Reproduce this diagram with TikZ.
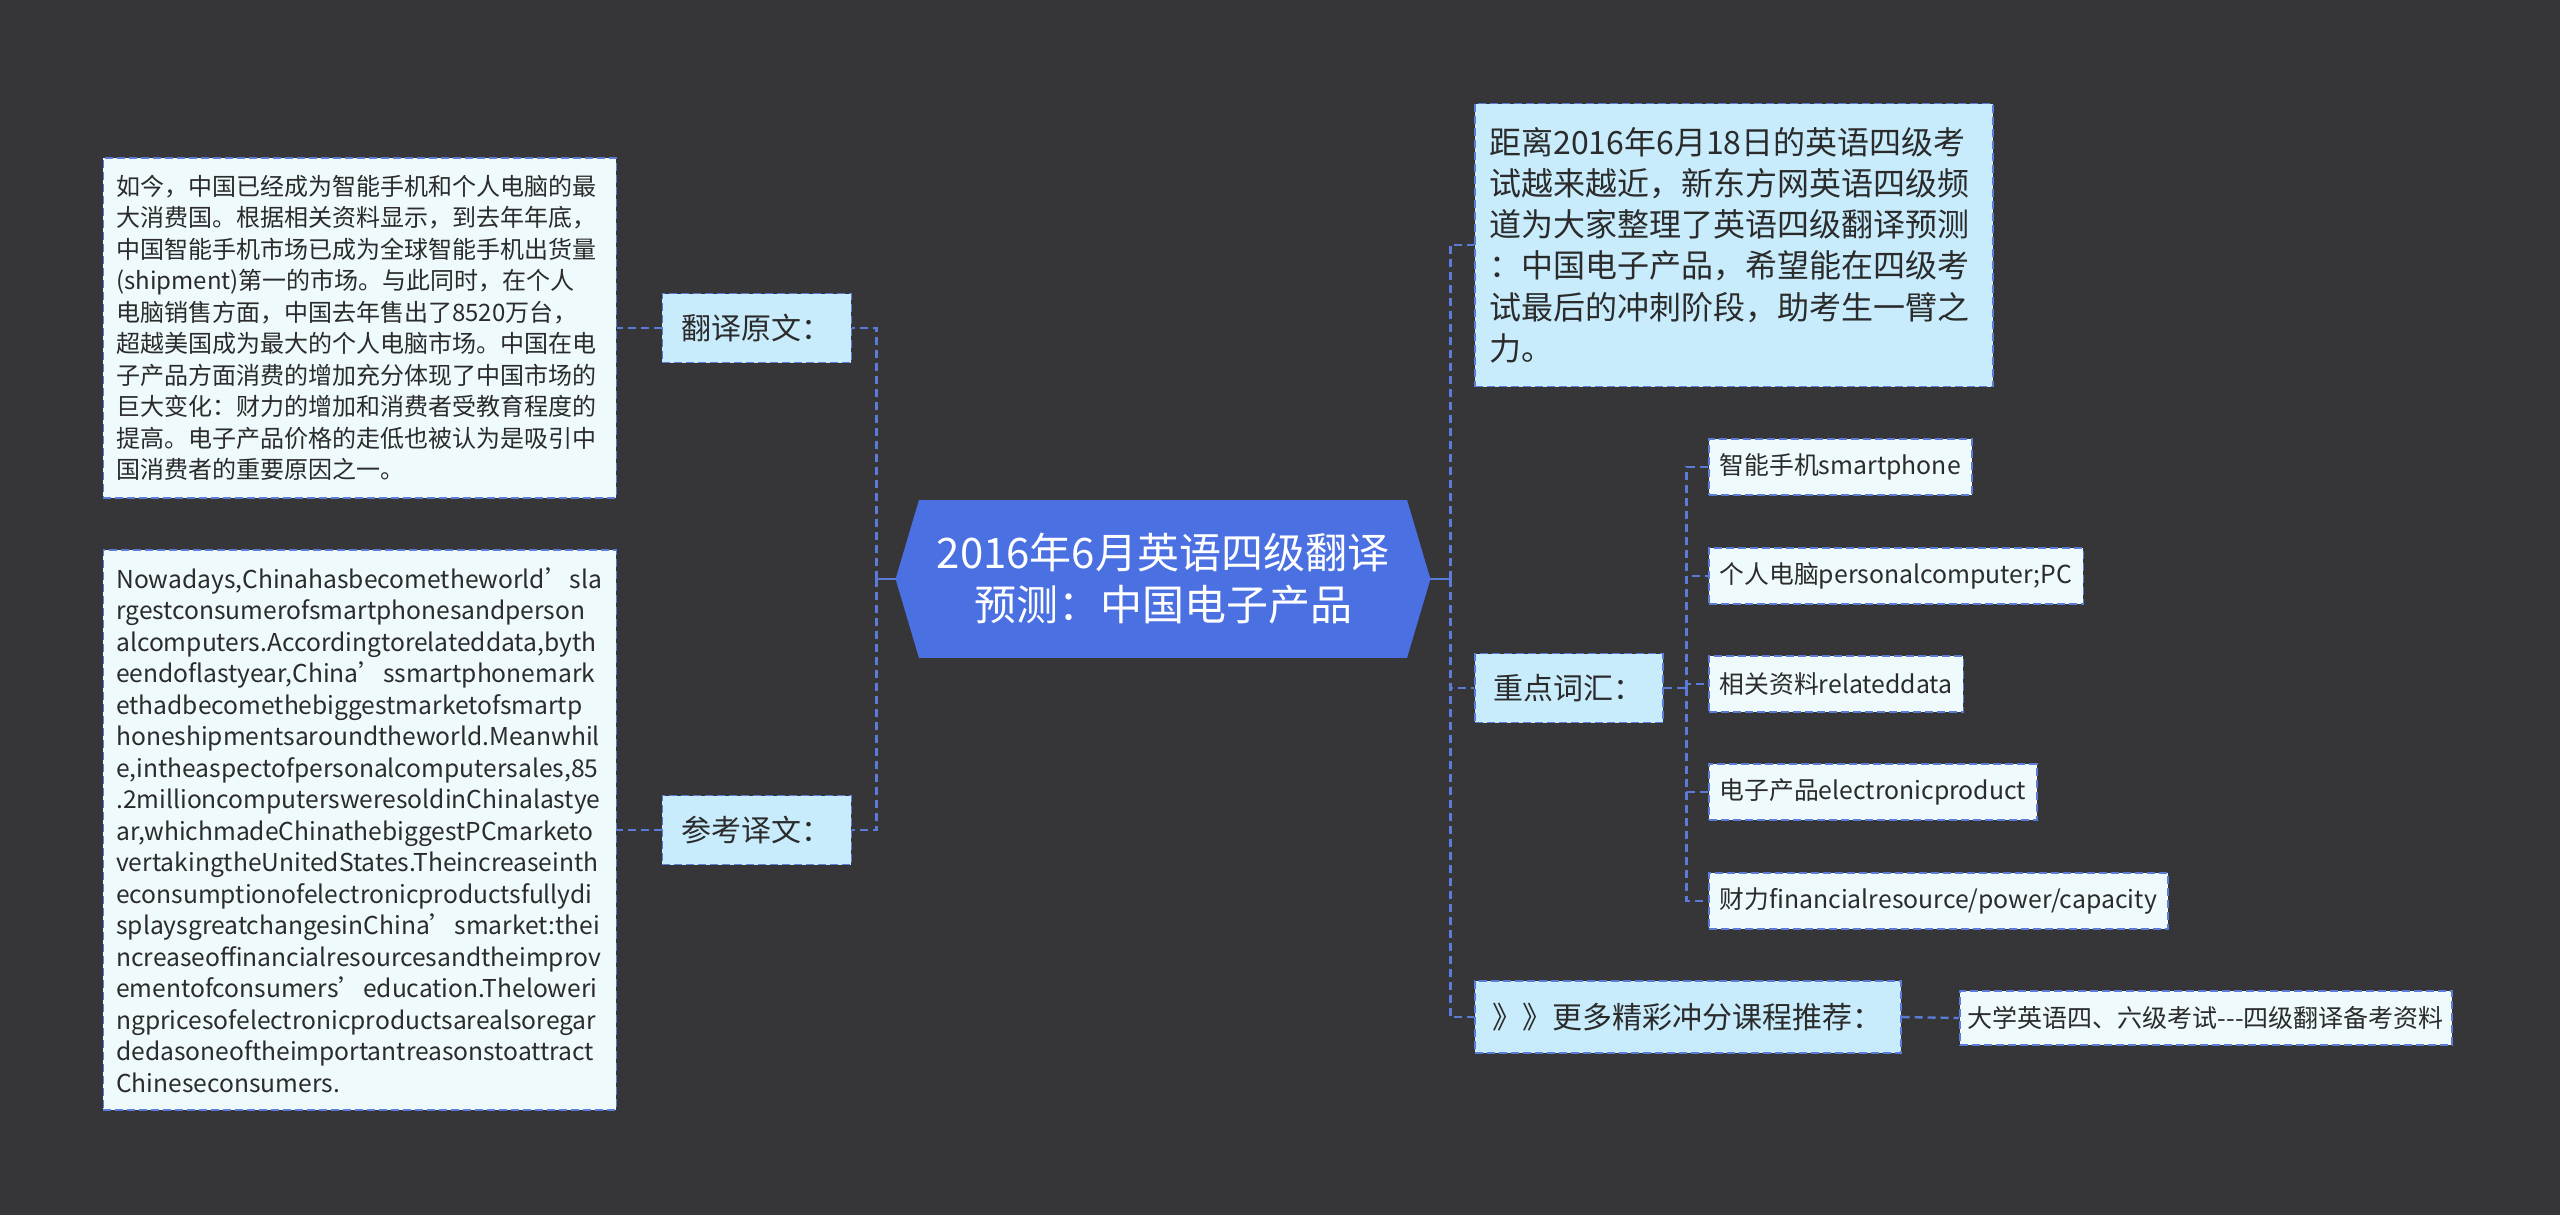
\documentclass[tikz,border=0pt]{standalone}
\usepackage{fontspec}
\setmainfont{Noto Sans CJK SC}
\usetikzlibrary{shapes.symbols}

\definecolor{bgdark}{HTML}{363537}
\definecolor{lineblue}{HTML}{5A7BD8}
\definecolor{rootblue}{HTML}{4B70E2}
\definecolor{branchblue}{HTML}{C8ECFC}
\definecolor{leafwhite}{HTML}{EFFAFD}
\definecolor{txtgray}{HTML}{2B2B2B}

\begin{document}
\begin{tikzpicture}[x=0.5pt, y=-0.5pt, every node/.style={font=\fontsize{12}{15.75}\selectfont, text=txtgray},
	topic/.style={shape=signal, signal to=west and east, signal pointer angle=147, fill=rootblue, draw=rootblue, text=white, minimum width=267pt, minimum height=78.5pt, align=center, font=\fontsize{21}{26}\selectfont},
	box/.style={draw=lineblue, line width=0.75pt, dash pattern=on 4pt off 2pt},
	branch/.style={box, fill=branchblue, inner xsep=9pt, minimum height=34.5pt, font=\fontsize{15}{20}\selectfont},
	leaf/.style={box, fill=leafwhite, inner xsep=5.5pt, minimum height=28pt, font=\fontsize{12.4}{15.75}\selectfont},
	textbox/.style={leaf, inner xsep=6.5pt, text width=243.5pt, align=left},
	link/.style={lineblue, line width=1.2pt, dash pattern=on 4pt off 2.5pt},
	stub/.style={lineblue, line width=1.2pt}]
	\fill[bgdark] (0,0) rectangle (2560,1215);
	\useasboundingbox (0,0) rectangle (2560,1215);

	% centre
	\node[topic] (root) at (1163,579) {2016年6月英语四级翻译\\预测：中国电子产品};

	% left side
	\node[branch, anchor=east, minimum width=94.5pt] (yuanwen) at (852,328) {翻译原文：};
	\node[branch, anchor=east, minimum width=94.5pt] (yiwen) at (852,830) {参考译文：};
	\node[textbox, anchor=east, minimum height=170pt, font=\fontsize{12}{15.75}\selectfont] (yuanwentext) at (617,328) {如今，中国已经成为智能手机和个人电脑的最\\大消费国。根据相关资料显示，到去年年底，\\中国智能手机市场已成为全球智能手机出货量\\(shipment)第一的市场。与此同时，在个人\\电脑销售方面，中国去年售出了8520万台，\\超越美国成为最大的个人电脑市场。中国在电\\子产品方面消费的增加充分体现了中国市场的\\巨大变化：财力的增加和消费者受教育程度的\\提高。电子产品价格的走低也被认为是吸引中\\国消费者的重要原因之一。};
	\node[textbox, anchor=east, minimum height=280pt, font=\fontsize{12.3}{15.75}\selectfont] (yiwentext) at (617,830) {Nowadays,Chinahasbecometheworld’sla\\rgestconsumerofsmartphonesandperson\\alcomputers.Accordingtorelateddata,byth\\eendoflastyear,China’ssmartphonemark\\ethadbecomethebiggestmarketofsmartp\\honeshipmentsaroundtheworld.Meanwhil\\e,intheaspectofpersonalcomputersales,85\\.2millioncomputersweresoldinChinalastye\\ar,whichmadeChinathebiggestPCmarketo\\vertakingtheUnitedStates.Theincreaseinth\\econsumptionofelectronicproductsfullydi\\splaysgreatchangesinChina’smarket:thei\\ncreaseoffinancialresourcesandtheimprov\\ementofconsumers’education.Theloweri\\ngpricesofelectronicproductsarealsoregar\\dedasoneoftheimportantreasonstoattract\\Chineseconsumers.};

	% right side
	\node[branch, anchor=west, inner xsep=7.3pt, text width=244.4pt, align=left, minimum height=141.5pt, font=\fontsize{16}{20.6}\selectfont] (intro) at (1474,245) {距离2016年6月18日的英语四级考\\试越来越近，新东方网英语四级频\\道为大家整理了英语四级翻译预测\\：中国电子产品，希望能在四级考\\试最后的冲刺阶段，助考生一臂之\\力。};
	\node[branch, anchor=west, minimum width=94pt] (vocab) at (1474,688) {重点词汇：};
	\node[branch, anchor=west, minimum height=36pt] (more) at (1474,1017) {》》更多精彩冲分课程推荐：};
	\node[leaf, anchor=west, minimum height=27pt, inner xsep=4pt, font=\fontsize{12.5}{15.75}\selectfont] (ziliao) at (1959,1018) {大学英语四、六级考试-{}-{}-四级翻译备考资料};
	\foreach \w/\y [count=\i] in {{智能手机smartphone}/467, {个人电脑personalcomputer;PC}/576, {相关资料relateddata}/684, {电子产品electronicproduct}/792, {财力financialresource/power/capacity}/901}
		\node[leaf, anchor=west] (w\i) at (1708,\y) {\w};

	% connectors
	\draw[stub] (root.west) -- ++(-19,0) coordinate (ltrunk);
	\draw[stub] (root.east) -- ++(20,0) coordinate (rtrunk);
	\foreach \c in {yuanwen, yiwen}
		\draw[link] (ltrunk) |- (\c.east);
	\foreach \c in {intro, vocab, more}
		\draw[link] (rtrunk) |- (\c.west);
	\draw[link] (yuanwen.west) -- (yuanwentext.east);
	\draw[link] (yiwen.west) -- (yiwentext.east);
	\draw[link] (vocab.east) -- ++(23,0) coordinate (vtrunk);
	\foreach \i in {1,...,5}
		\draw[link] (vtrunk) |- (w\i.west);
	\draw[link] (more.east) -- (ziliao.west);
\end{tikzpicture}
\end{document}
